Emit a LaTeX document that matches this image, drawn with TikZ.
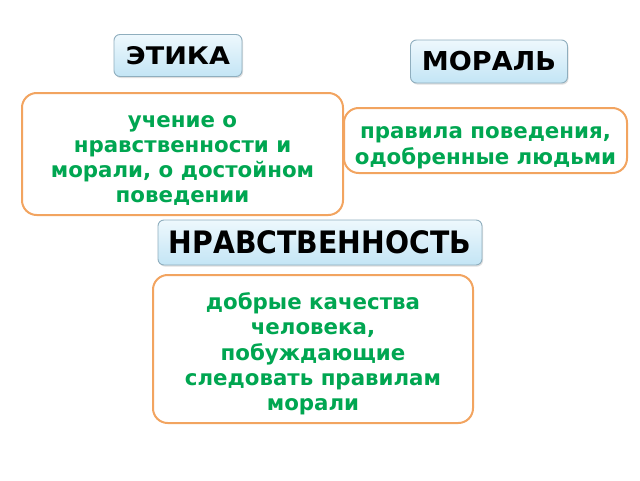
\documentclass[tikz,border=0pt]{standalone}
\usepackage{fontspec}
\setmainfont{DejaVu Sans}
\usetikzlibrary{shadows}
\definecolor{ramka}{HTML}{F2A460}
\definecolor{zelen}{HTML}{00A651}
\definecolor{kontur}{HTML}{8FAEBE}
\definecolor{verh}{HTML}{EEF8FD}
\definecolor{niz}{HTML}{C3E5F5}
% zagolovok: shirina i vysota bukv
\newcommand{\titul}[3]{\resizebox{#1}{#2}{\bfseries #3}}
% opuskaet tekst v ramke
\newcommand{\sverhu}{\rule{0pt}{21pt}}
\newcommand{\snizu}{\rule[-4.5pt]{0pt}{0pt}}
\tikzset{
	opis/.style={draw=ramka, line width=1.5pt, rounded corners=11pt, fill=white,
		text=zelen, align=center, inner sep=0pt,
		font=\bfseries\fontsize{16}{18.8}\selectfont},
	zagolovok/.style={draw=kontur, line width=0.7pt, rounded corners=4.5pt,
		top color=verh, bottom color=niz, inner sep=0pt,
		drop shadow={opacity=0.25, shadow xshift=0.8pt, shadow yshift=-1.2pt}}
}
\begin{document}
\begin{tikzpicture}[x=0.75pt, y=-0.75pt]
	\useasboundingbox (0,0) rectangle (640,480);
	% verkhnie zagolovki
	\node[zagolovok, minimum width={128*0.75pt}, minimum height={42*0.75pt}] (etika) at (178,55.5) {\titul{78pt}{13.5pt}{ЭТИКА}};
	\node[zagolovok, minimum width={157*0.75pt}, minimum height={43*0.75pt}] (moral) at (489,61.5) {\titul{100.5pt}{14.5pt}{МОРАЛЬ}};
	% opredeleniya
	\node[opis, minimum width={321*0.75pt}, minimum height={122*0.75pt}] (uchenie) at (182.5,154) {\sverhu учение о\\нравственности и\\морали, о достойном\\поведении\snizu};
	\node[opis, minimum width={283*0.75pt}, minimum height={65*0.75pt}] (pravila) at (485.5,140.5) {\sverhu правила поведения,\\одобренные людьми\snizu};
	% nizhnyaya chast
	\node[zagolovok, minimum width={324*0.75pt}, minimum height={45*0.75pt}] (nravst) at (320,242.5) {\titul{226.5pt}{17.2pt}{НРАВСТВЕННОСТЬ}};
	\node[opis, minimum width={320*0.75pt}, minimum height={148*0.75pt}] (kachestva) at (313,349) {\sverhu добрые качества\\человека,\\побуждающие\\следовать правилам\\морали\snizu};
\end{tikzpicture}
\end{document}
